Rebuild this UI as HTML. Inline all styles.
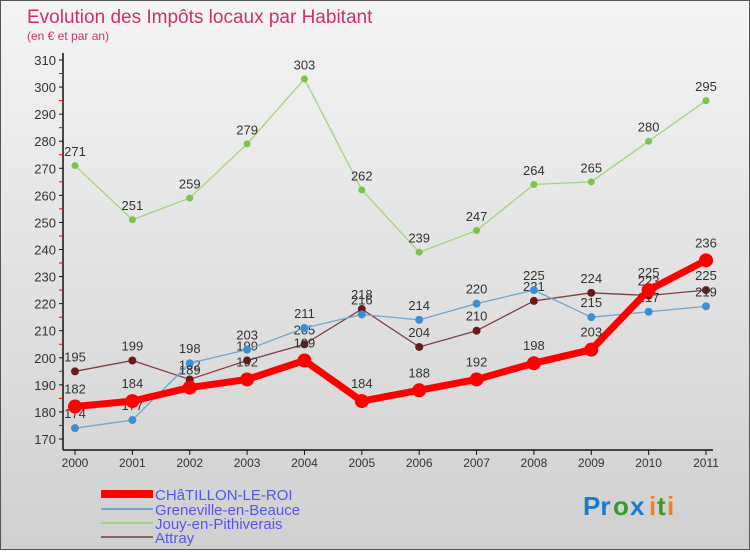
<!DOCTYPE html>
<html><head><meta charset="utf-8"><style>
body{margin:0;width:750px;height:550px;overflow:hidden;font-family:"Liberation Sans",sans-serif}
#wrap{position:relative;width:748px;height:548px;border:1px solid #555;background:linear-gradient(#f4f4f4,#d0d0d0)}
</style></head><body>
<div id="wrap">
<svg id="c" width="748" height="548" xmlns="http://www.w3.org/2000/svg">
<text x="26" y="22" font-size="19" fill="#d0306a">Evolution des Impôts locaux par Habitant</text>
<text x="26" y="39" font-size="12" fill="#d0306a">(en € et par an)</text>
<g id="axes"></g><g id="series"></g>
<g>
<rect x="100" y="489" width="52" height="8" fill="#f00"/>
<text x="154" y="499" font-size="15" fill="#5555ee">CHâTILLON-LE-ROI</text>
<rect x="100" y="507" width="52" height="2" fill="#6ea6d0"/>
<text x="154" y="514" font-size="15" fill="#5555ee">Greneville-en-Beauce</text>
<rect x="100" y="521" width="52" height="2" fill="#9ed67e"/>
<text x="154" y="528" font-size="15" fill="#5555ee">Jouy-en-Pithiverais</text>
<rect x="100" y="535" width="52" height="2" fill="#906060"/>
<text x="154" y="542" font-size="15" fill="#5555ee">Attray</text>
</g>
<g font-size="26" font-weight="bold">
<text x="582" y="514" fill="#1a7ad0">Pr</text><text x="612" y="514" fill="#3a9a30">o</text><text x="629" y="514" fill="#1a7ad0">x</text><text x="648" y="514" fill="#f08020">i</text><text x="656" y="514" fill="#3a9a30">t</text><text x="666" y="514" fill="#f08020">i</text>
</g>
</svg></div>
<script>
const years=["2000","2001","2002","2003","2004","2005","2006","2007","2008","2009","2010","2011"];
const chatillon=[182,184,189,192,199,184,188,192,198,203,225,236];
const greneville=[174,177,198,203,211,216,214,220,225,215,217,219];
const jouy=[271,251,259,279,303,262,239,247,264,265,280,295];
const attray=[195,199,192,199,205,218,204,210,221,224,223,225];
const yTicks=[170,180,190,200,210,220,230,240,250,260,270,280,290,300,310];
const NS="http://www.w3.org/2000/svg";
const X=i=>74+i*(705-74)/11;
const Y=v=>438-(v-170)*(438-59)/140;
function mk(t,a,p){const e=document.createElementNS(NS,t);for(const k in a)e.setAttribute(k,a[k]);p.appendChild(e);return e;}
const ax=document.getElementById('axes'),sg=document.getElementById('series');
let l=mk('line',{x1:62,y1:52,x2:62,y2:449,stroke:'#111','stroke-width':1.5},ax);


l=mk('line',{x1:62,y1:449,x2:712,y2:449,stroke:'#111','stroke-width':1.5},ax);


yTicks.forEach(v=>{
 mk('line',{x1:58,y1:Y(v),x2:62,y2:Y(v),stroke:'#111'},ax);
 if(v<310)mk('line',{x1:58,y1:Y(v+5),x2:62,y2:Y(v+5),stroke:'#e00'},ax);
 const t=mk('text',{x:55,y:Y(v)+5,'text-anchor':'end','font-size':13,fill:'#333'},ax);
 t.textContent=v;
 
 
});
years.forEach((y,i)=>{
 mk('line',{x1:X(i),y1:449,x2:X(i),y2:454,stroke:'#111'},ax);
 const t=mk('text',{x:X(i),y:466,'text-anchor':'middle','font-size':12,fill:'#333'},ax);
 t.textContent=y;
 
 
});
function draw(data,color,dot,w,r,name){
 const g=mk('g',{},sg);
 
 
 const p=mk('polyline',{points:data.map((v,i)=>X(i)+','+Y(v)).join(' '),fill:'none',stroke:color,'stroke-width':w,'stroke-linejoin':'round'},g);
 
 
 data.forEach((v,i)=>{
  const c=mk('circle',{cx:X(i),cy:Y(v),r:r,fill:dot},g);
  
  
  const t=mk('text',{x:X(i),y:Y(v)-r-6,'text-anchor':'middle','font-size':13,fill:'#333'},g);
  t.textContent=v;
  
  
 });
}
draw(jouy,'#9ed67e','#7cc44e',1.3,3.5,'jouy');
draw(attray,'#804040','#6a1a1a',1.3,4,'attray');
draw(greneville,'#6ea6d0','#3a90d0',1.3,4,'greneville');
draw(chatillon,'#f00','#f00',7,7,'chatillon');
</script>
</body></html>
